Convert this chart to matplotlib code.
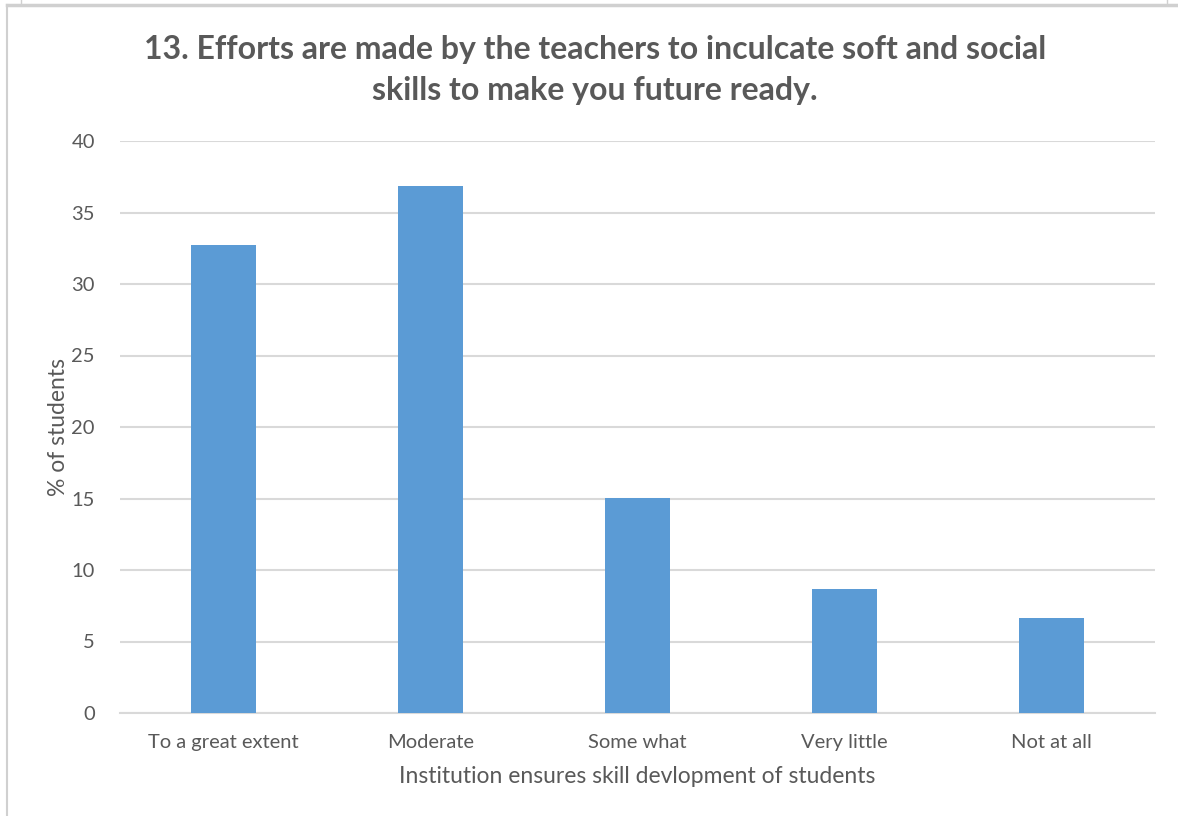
import matplotlib.pyplot as plt
from matplotlib.lines import Line2D

# data
categories = ["To a great extent", "Moderate", "Some what", "Very little", "Not at all"]
percent = [32.7, 36.85, 15.05, 8.65, 6.65]
y_ticks = [0, 5, 10, 15, 20, 25, 30, 35, 40]

title_text = "13. Efforts are made by the teachers to inculcate soft and social\nskills to make you future ready."
x_label = "Institution ensures skill devlopment of students"
y_label = "% of students"

W, H = 1178, 816
text_col = "#595959"
grid_col = "#D9D9D9"
bar_col = "#5B9BD5"

plt.rcParams['font.family'] = ['Lato', 'DejaVu Sans']

fig = plt.figure(figsize=(W / 100, H / 100), dpi=100)
ax = fig.add_axes([120 / W, 1 - 713 / H, (1155 - 120) / W, (713 - 141) / H])

x = list(range(len(categories)))
ax.bar(x, percent, width=0.31, color=bar_col, zorder=3)

ax.set_xlim(-0.5, len(categories) - 0.5)
ax.set_ylim(0, 40)
ax.set_yticks(y_ticks)
ax.set_xticks(x)
ax.set_xticklabels(categories)
ax.yaxis.grid(True, color=grid_col, linewidth=1.5, zorder=0)
ax.tick_params(axis='both', length=0, labelsize=14.5, colors=text_col)
ax.tick_params(axis='y', pad=18)
ax.tick_params(axis='x', pad=15)
for s in ['top', 'right', 'left']:
    ax.spines[s].set_visible(False)
ax.spines['bottom'].set_color(grid_col)
ax.spines['bottom'].set_linewidth(1.5)

ax.set_xlabel(x_label, fontsize=16.5, color=text_col, labelpad=11)
ax.set_ylabel(y_label, fontsize=16.5, color=text_col, labelpad=2)

fig.text(595 / W, 1 - 70 / H, title_text, ha='center', va='center',
         fontsize=23, fontweight='bold', color=text_col, linespacing=1.5)

# chart frame bits from the screenshot
def px_line(x0, y0, x1, y1, col="#D0D0D0", lw=1.5):
    fig.add_artist(Line2D([x0 / W, x1 / W], [1 - y0 / H, 1 - y1 / H],
                          color=col, linewidth=lw, transform=fig.transFigure))

px_line(7, 5, W, 5, lw=2.5)
px_line(7, 5, 7, H)
px_line(21, 0, 21, 5, lw=1)
px_line(1167, 0, 1167, 5, lw=1)

fig.savefig("out.png", dpi=100)
